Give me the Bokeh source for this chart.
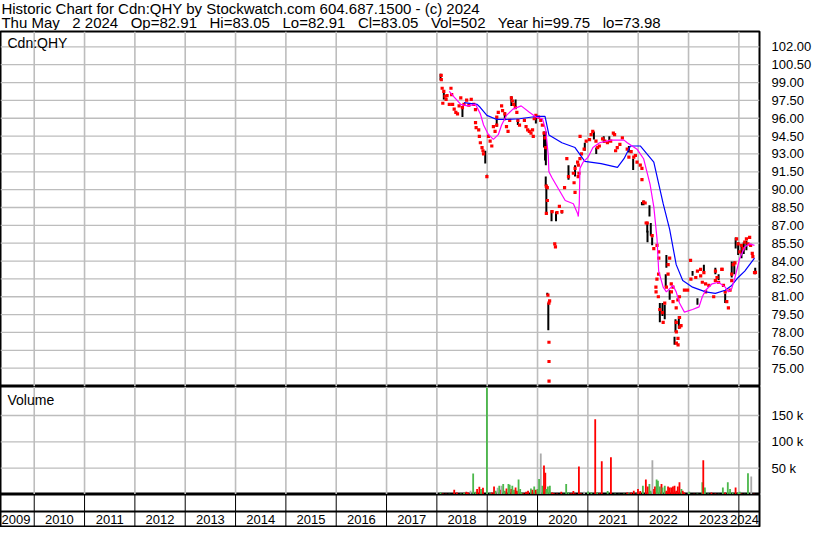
from bokeh.plotting import figure
from bokeh.models import Range1d, FixedTicker, PrintfTickFormatter, Label, Span, ColumnDataSource
from bokeh.layouts import column
from bokeh.embed import file_html
from bokeh.resources import INLINE
from bokeh.core.properties import value

# ---------------- data ----------------
header_line1 = "Historic Chart for Cdn:QHY by Stockwatch.com 604.687.1500 - (c) 2024"
header_line2 = "Thu May  2 2024  Op=82.91  Hi=83.05  Lo=82.91  Cl=83.05  Vol=502  Year hi=99.75  lo=73.98"
symbol = "Cdn:QHY"

years = list(range(2009, 2025))
year_bounds = list(range(2010, 2025))
date_start, date_end = 2009.33, 2024.41
price_lo, price_hi = 73.46, 103.29
price_ticks = [75.0, 76.5, 78.0, 79.5, 81.0, 82.5, 84.0, 85.5, 87.0, 88.5, 90.0,
               91.5, 93.0, 94.5, 96.0, 97.5, 99.0, 100.5, 102.0]
vol_ticks = [50000, 100000, 150000]
vol_tick_labels = ["50 k", "100 k", "150 k"]
vol_max = 205000

# daily closes (decimal year, price)
close_t = [2018.086, 2018.088, 2018.105, 2018.138, 2018.163, 2018.183, 2018.118, 2018.202, 2018.28, 2018.294,
           2018.247, 2018.313, 2018.344, 2018.377, 2018.41, 2018.442, 2018.475, 2018.508, 2018.539, 2018.591,
           2018.636, 2018.683, 2018.733, 2018.767, 2018.768, 2018.78, 2018.831, 2018.844, 2018.864, 2018.897,
           2018.916, 2018.928, 2018.994, 2019.025, 2019.058, 2019.091, 2019.123, 2019.156, 2019.189, 2019.19,
           2019.22, 2019.286, 2019.305, 2019.35, 2019.383, 2019.414, 2019.447, 2019.48, 2019.5, 2019.525,
           2019.558, 2019.589, 2019.609, 2019.642, 2019.739, 2019.772, 2019.804, 2019.837, 2019.87, 2019.901,
           2019.915, 2019.934, 2019.967, 2020.018, 2020.064, 2020.096, 2020.129, 2020.149, 2020.163, 2020.194,
           2020.173, 2020.195, 2020.175, 2020.29, 2020.387, 2020.484, 2020.434, 2020.537, 2020.582, 2020.615,
           2020.712, 2020.726, 2020.745, 2020.746, 2020.796, 2020.81, 2020.843, 2020.823, 2020.808, 2020.873,
           2020.926, 2020.845, 2020.967, 2021.033, 2021.064, 2021.097, 2021.161, 2021.195, 2021.228, 2021.292,
           2021.337, 2021.389, 2021.453, 2021.506, 2021.531, 2021.551, 2021.584, 2021.636, 2021.685, 2021.782,
           2021.815, 2021.86, 2021.912, 2021.944, 2021.977, 2022.041, 2022.074, 2022.075, 2022.107, 2022.138,
           2022.158, 2020.342, 2020.356, 2020.206, 2020.24, 2020.226, 2020.227, 2020.228, 2020.229,
           2022.18, 2022.277, 2022.31, 2022.374, 2022.407, 2022.41, 2022.405, 2022.372, 2022.352, 2022.355,
           2022.4, 2022.43, 2022.482, 2022.496, 2022.527, 2022.56, 2022.593, 2022.595, 2022.625, 2022.657,
           2022.69, 2022.66, 2022.692, 2022.755, 2022.82, 2022.788, 2022.821, 2022.757, 2022.758, 2022.79,
           2022.759, 2022.792, 2022.852, 2022.822, 2022.918, 2022.982, 2023.047, 2023.144, 2023.177, 2023.241,
           2023.274, 2023.339, 2023.34, 2023.403, 2023.5, 2023.533, 2023.566, 2023.597, 2023.663, 2023.694,
           2023.728, 2023.76, 2023.792, 2023.825, 2023.858, 2023.859, 2023.889, 2023.922, 2023.955, 2023.986,
           2024.019, 2024.052, 2024.083, 2024.117, 2024.15, 2024.181, 2024.214, 2024.233, 2024.266, 2024.278,
           2024.311, 2024.33, 2023.04, 2023.24, 2023.305, 2023.535, 2023.665]
close_p = [99.6, 99.25, 98.52, 98.26, 97.85, 97.58, 97.26, 97.9, 98.52, 97.98,
           97.17, 97.17, 96.77, 96.5, 96.37, 97.04, 97.72, 96.9, 97.17, 97.53,
           97.1, 97.58, 97.17, 96.72, 95.64, 95.21, 95.02, 94.48, 93.94, 93.54,
           93.27, 93.0, 91.1, 94.48, 94.08, 93.67, 95.29, 94.89, 95.43, 96.1,
           96.5, 97.04, 96.64, 96.37, 95.29, 94.89, 95.83, 97.72, 97.45, 97.17,
           96.9, 96.5, 95.83, 95.43, 95.83, 95.29, 95.02, 94.89, 94.75, 95.02,
           94.48, 95.96, 96.24, 96.1, 95.83, 95.43, 94.75, 94.35, 93.54, 90.17,
           90.3, 89.09, 88.0, 88.15, 88.07, 88.15, 88.6, 90.17, 92.6, 91.1,
           91.38, 90.58, 89.77, 91.79, 92.32, 92.06, 92.6, 91.38, 91.1, 93.0,
           93.4, 94.48, 94.08, 94.21, 94.62, 94.89, 94.08, 93.54, 93.67, 94.27,
           94.08, 93.94, 94.08, 94.75, 94.62, 93.27, 93.54, 93.81, 94.35, 93.4,
           92.73, 93.19, 92.73, 92.87, 92.32, 92.06, 91.79, 90.84, 88.96, 88.88,
           87.2, 85.45, 85.19, 81.14, 80.66, 80.47, 77.18, 75.56, 73.92,
           87.2, 86.13, 85.05, 85.32, 84.78, 84.24, 82.9, 82.49, 81.81, 81.41,
           81.0, 79.93, 79.66, 78.85, 80.47, 81.81, 82.9, 83.7, 84.24, 82.09,
           81.81, 81.41, 80.6, 80.07, 81.0, 80.74, 79.26, 78.85, 78.05, 77.5,
           77.1, 76.96, 78.58, 78.45, 81.55, 81.55, 82.49, 82.62, 83.16, 82.76,
           82.22, 82.09, 81.41, 81.95, 81.0, 82.36, 82.62, 82.22, 83.3, 81.95,
           81.41, 80.6, 80.07, 81.55, 82.36, 82.9, 83.7, 83.84, 85.86, 85.45,
           84.78, 85.32, 85.05, 85.59, 85.86, 85.45, 85.99, 85.32, 84.65, 84.38,
           83.03, 83.05, 84.05, 83.3, 83.03, 83.16, 83.3]

# daily high-low ranges (decimal year, low, high)
bar_t = [2018.073, 2018.138, 2018.508, 2018.961, 2018.994, 2019.189, 2019.35, 2019.48, 2019.564, 2019.609,
         2019.967, 2020.129, 2020.149, 2020.163, 2020.165, 2020.175, 2020.278, 2020.367, 2020.484, 2020.615,
         2020.745, 2020.939, 2021.166, 2021.12, 2021.315, 2021.426, 2021.815, 2021.9, 2022.074, 2020.194,
         2020.214, 2020.226, 2022.107, 2022.224, 2022.25, 2022.185, 2022.18, 2022.277, 2022.56, 2022.547,
         2022.43, 2022.482, 2022.527, 2022.625, 2022.741, 2022.807, 2022.722, 2023.08, 2023.177, 2023.305,
         2023.533, 2023.597, 2023.728, 2023.858, 2023.909, 2023.936, 2023.986, 2024.052, 2024.097, 2024.15,
         2024.325]
bar_lo = [99.2, 97.58, 96.1, 92.19, 90.98, 95.29, 95.83, 97.04, 96.77, 95.43,
          95.56, 93.54, 92.46, 90.3, 92.06, 88.0, 87.34, 87.34, 88.0, 90.84,
          91.1, 93.27, 93.0, 94.21, 93.94, 94.0, 93.13, 91.65, 88.69, 81.14,
          78.18, 73.87, 88.69, 87.75, 86.13, 85.59, 86.4, 85.32, 83.43, 81.81,
          78.85, 79.39, 79.12, 80.74, 78.05, 78.31, 76.96, 82.76, 80.33, 83.03,
          82.9, 82.4, 80.47, 82.62, 82.9, 85.05, 84.51, 84.24, 84.6, 84.9,
          82.9]
bar_hi = [99.74, 98.26, 96.77, 93.27, 91.25, 96.1, 96.5, 97.85, 97.58, 95.83,
          96.24, 94.89, 94.21, 91.1, 94.89, 90.44, 88.28, 88.15, 88.2, 92.06,
          92.06, 93.94, 93.54, 94.89, 94.48, 94.48, 93.67, 92.6, 88.96, 81.33,
          80.47, 74.0, 89.09, 88.69, 87.2, 86.54, 87.2, 86.0, 84.51, 82.9,
          80.47, 80.47, 80.33, 81.55, 79.12, 79.39, 77.64, 83.16, 80.87, 83.7,
          83.43, 82.9, 81.28, 83.97, 83.97, 85.99, 85.59, 85.32, 85.59, 85.7,
          83.43]

# moving averages
ma_long_t = [2018.539, 2018.8, 2018.864, 2018.994, 2019.189, 2019.383, 2019.642, 2019.967, 2020.149, 2020.226,
             2020.484, 2020.745, 2020.939, 2021.263, 2021.588, 2021.718, 2021.846, 2022.041, 2022.31, 2022.496,
             2022.625, 2022.755, 2022.885, 2023.08, 2023.339, 2023.533, 2023.728, 2023.858, 2023.986, 2024.117,
             2024.311]
ma_long_p = [97.31, 97.17, 96.9, 96.24, 95.9, 95.9, 95.96, 96.15, 96.15, 94.6,
             93.94, 93.54, 92.38, 92.19, 91.87, 92.6, 93.67, 93.67, 92.32, 88.82,
             86.67, 83.7, 82.36, 81.81, 81.41, 81.28, 81.55, 81.95, 82.62, 83.16,
             84.24]
ma_short_t = [2018.247, 2018.344, 2018.475, 2018.605, 2018.767, 2018.864, 2018.928, 2019.025, 2019.123, 2019.22,
              2019.286, 2019.383, 2019.512, 2019.675, 2019.837, 2019.967, 2020.096, 2020.163, 2020.214, 2020.226,
              2020.29, 2020.42, 2020.55, 2020.712, 2020.796, 2020.81, 2020.829, 2020.843, 2020.907, 2021.004,
              2021.101, 2021.232, 2021.457, 2021.718, 2021.782, 2021.977, 2022.107, 2022.236, 2022.31, 2022.374,
              2022.407, 2022.496, 2022.56, 2022.69, 2022.755, 2022.82, 2022.918, 2023.08, 2023.209, 2023.274,
              2023.339, 2023.469, 2023.597, 2023.728, 2023.792, 2023.858, 2023.922, 2024.019, 2024.117, 2024.214,
              2024.311]
ma_short_p = [98.26, 97.77, 97.17, 97.04, 97.17, 96.37, 95.43, 94.62, 94.22, 94.62,
              95.43, 96.24, 96.77, 97.04, 96.5, 96.1, 95.96, 95.02, 92.87, 91.51,
              90.98, 90.04, 89.09, 88.82, 88.0, 87.74, 88.82, 91.79, 92.32, 92.73,
              93.54, 93.94, 94.16, 94.16, 93.94, 93.4, 92.6, 90.44, 88.56, 85.86,
              83.16, 81.81, 81.41, 81.95, 81.41, 80.47, 79.71, 79.93, 80.15, 81.0,
              81.55, 82.09, 82.22, 81.81, 81.41, 81.68, 82.62, 84.24, 85.19, 85.45,
              85.32]

# daily volume (decimal year, shares, direction)
vol_t = [2018.073, 2018.118, 2018.183, 2018.248, 2018.345, 2018.397, 2018.475, 2018.54, 2018.585, 2018.617,
         2018.669, 2018.721, 2018.767, 2018.799, 2018.844, 2018.877, 2018.916, 2018.994, 2019.058, 2019.091,
         2019.136, 2019.169, 2019.208, 2019.24, 2019.272, 2019.285, 2019.318, 2019.35, 2019.383, 2019.422,
         2019.447, 2019.48, 2019.499, 2019.532, 2019.564, 2019.59, 2019.623, 2019.655, 2019.687, 2019.72,
         2019.772, 2019.811, 2019.869, 2019.901, 2019.934, 2019.966, 2019.999, 2020.031, 2020.064, 2020.096,
         2020.128, 2020.154, 2020.174, 2020.206, 2020.245, 2020.29, 2020.323, 2020.388, 2020.472, 2020.518,
         2020.569, 2020.615, 2020.667, 2020.712, 2020.745, 2020.822, 2020.861, 2020.926, 2021.004, 2021.069,
         2021.146, 2021.185, 2021.231, 2021.276, 2021.393, 2021.458, 2021.542, 2021.62, 2021.717, 2021.782,
         2021.815, 2021.86, 2021.912, 2021.964, 2021.996, 2022.041, 2022.093, 2022.152, 2022.191, 2022.223,
         2022.249, 2022.282, 2022.314, 2022.333, 2022.366, 2022.392, 2022.43, 2022.463, 2022.483, 2022.528,
         2022.56, 2022.593, 2022.625, 2022.658, 2022.69, 2022.722, 2022.755, 2022.787, 2022.82, 2022.859,
         2022.885, 2022.917, 2023.014, 2023.111, 2023.176, 2023.274, 2023.293, 2023.325, 2023.39, 2023.455,
         2023.533, 2023.598, 2023.682, 2023.728, 2023.78, 2023.825, 2023.877, 2023.935, 2023.987, 2024.019,
         2024.052, 2024.117, 2024.181, 2024.246, 2024.298, 2024.33]
vol_v = [3900, 2000, 1300, 1300, 9000, 3900, 2000, 3300, 5200, 3900,
         7100, 39800, 5200, 10300, 14800, 10300, 12900, 203000, 2600, 3900,
         15400, 7100, 12900, 16700, 9000, 16700, 19900, 7100, 11600, 19900,
         18600, 10300, 16700, 9000, 13500, 7100, 28300, 10300, 3900, 2600,
         5200, 7100, 11600, 9000, 15400, 9000, 10300, 29600, 77700, 16700,
         55200, 41200, 10300, 15400, 16700, 3900, 2600, 2000, 5200, 1300,
         19900, 3900, 2600, 6500, 2000, 53300, 2600, 5200, 5800, 3900,
         143000, 3900, 2600, 62900, 6500, 70600, 2000, 1300, 2000, 3900,
         2600, 3900, 7100, 2000, 10300, 6500, 16700, 28300, 15400, 19900,
         7100, 64800, 10300, 15400, 28300, 26300, 15400, 19900, 13500, 16700,
         7100, 15400, 13500, 13500, 15400, 16700, 7100, 15400, 23100, 10300,
         7100, 3900, 5200, 1300, 2000, 23100, 64800, 13500, 2000, 3900,
         2000, 1300, 13500, 3900, 23100, 10300, 3900, 13500, 3900, 5200,
         2000, 1300, 40400, 34000, 1300, 502]
vol_dir = ["up", "down", "down", "up", "down", "down", "up", "up", "down", "down",
           "flat", "up", "up", "down", "down", "up", "down", "up", "up", "down",
           "down", "up", "flat", "up", "down", "flat", "up", "up", "down", "up",
           "up", "down", "up", "up", "down", "down", "up", "up", "up", "down",
           "down", "down", "up", "down", "up", "down", "up", "up", "flat", "up",
           "down", "down", "up", "up", "up", "down", "down", "down", "down", "up",
           "up", "up", "down", "down", "down", "down", "down", "flat", "up", "up",
           "down", "up", "down", "down", "up", "down", "up", "up", "up", "down",
           "up", "down", "down", "up", "down", "down", "up", "down", "down", "up",
           "up", "flat", "down", "down", "up", "up", "up", "down", "up", "up",
           "down", "down", "down", "down", "down", "down", "down", "down", "down", "up",
           "down", "down", "up", "down", "up", "up", "down", "up", "up", "down",
           "down", "up", "up", "down", "up", "up", "up", "down", "up", "up",
           "down", "up", "up", "flat", "down", "up"]

# ---------------- styling ----------------
FONT = "Liberation Sans"
W = 814
RB = 55
H_HEAD, H_PRICE, H_VOL, H_DATE = 30, 356, 108, 33
GRID = "#bdbdbd"
GRID_PX = 1.3
dir_colors = {"up": "#4cb84c", "down": "#ff0000", "flat": "#aaaaaa"}

xr = Range1d(date_start, date_end)


def base_fig(height, y_range, yloc=None, top=0, bottom=0):
    f = figure(width=W, height=height, x_range=xr, y_range=y_range,
               x_axis_location=None, y_axis_location=yloc,
               toolbar_location=None, output_backend="svg",
               min_border_left=0, min_border_right=RB,
               min_border_top=top, min_border_bottom=bottom)
    f.outline_line_color = "black"
    f.outline_line_width = 2
    f.grid.visible = False
    return f


def add_grids(f, yticks, ylo, yhi, frame_h):
    # grid drawn first so every data mark sits on top of it
    f.segment(x0=year_bounds, y0=[ylo] * len(year_bounds), x1=year_bounds, y1=[yhi] * len(year_bounds),
              line_color=GRID, line_width=1.6)
    f.hbar(y=yticks, left=date_start, right=date_end, height=(yhi - ylo) / frame_h * GRID_PX,
           fill_color=GRID, line_color=None)


# header (wide gaps kept with no-break spaces)
GAP = "\u00a0\u00a0 "
hdr = figure(width=W, height=H_HEAD, x_range=Range1d(0, W), y_range=Range1d(0, H_HEAD),
             x_axis_location=None, y_axis_location=None, toolbar_location=None,
             output_backend="svg", min_border=0)
hdr.outline_line_color = None
hdr.grid.visible = False
for i, txt in enumerate([header_line1, header_line2]):
    hdr.add_layout(Label(x=1, y=H_HEAD + 1 - i * 14.5, text=txt.replace("  ", GAP), text_baseline="top",
                         text_font=FONT, text_font_size="15px", text_color="black"))

# price panel
pf = base_fig(H_PRICE, Range1d(price_lo, price_hi), yloc="right", top=1)
pf.yaxis.ticker = FixedTicker(ticks=price_ticks)
pf.yaxis.formatter = PrintfTickFormatter(format="%.2f")
add_grids(pf, price_ticks, price_lo, price_hi, H_PRICE - 1)

pf.segment(x0=bar_t, y0=bar_lo, x1=bar_t, y1=bar_hi, line_color="black", line_width=2)
pf.scatter(x=close_t, y=close_p, marker="square", size=3.2, fill_color="#ff0000", line_color=None)
pf.line(x=ma_long_t, y=ma_long_p, line_color="#0000ff", line_width=1.2)
pf.line(x=ma_short_t, y=ma_short_p, line_color="#ff00ff", line_width=1.2)
pf.add_layout(Label(x=7, y=price_hi, y_offset=-3, x_units="screen", text=symbol, text_baseline="top",
                    text_font=FONT, text_font_size="14px", text_color="black"))

# volume panel
vf = base_fig(H_VOL, Range1d(0, vol_max), yloc="right")
vf.yaxis.ticker = FixedTicker(ticks=vol_ticks)
vf.yaxis.major_label_overrides = {t: l for t, l in zip(vol_ticks, vol_tick_labels)}
add_grids(vf, vol_ticks, 0, vol_max, H_VOL)
vsrc = ColumnDataSource(dict(t=vol_t, v=vol_v, c=[dir_colors[d] for d in vol_dir]))
vf.vbar(x="t", top="v", bottom=0, width=0.036, fill_color="c", line_color=None, source=vsrc)
vf.add_layout(Label(x=7, y=vol_max, y_offset=-5, x_units="screen", text="Volume", text_baseline="top",
                    text_font=FONT, text_font_size="14px", text_color="black"))

for f in (pf, vf):
    ax = f.yaxis[0]
    ax.axis_line_color = None
    ax.major_tick_line_color = None
    ax.minor_tick_line_color = None
    ax.major_label_standoff = 6
    ax.major_label_text_font = FONT
    ax.major_label_text_font_size = "13px"
    ax.major_label_text_color = "black"

# date panel
df = base_fig(H_DATE, Range1d(0, 1), bottom=1)
df.segment(x0=year_bounds, y0=[0] * len(year_bounds), x1=year_bounds, y1=[1] * len(year_bounds),
           line_color="black", line_width=1)
df.add_layout(Span(location=0.47, dimension="width", line_color="black", line_width=2))
lab_x, lab_align = [], []
for y in years:
    if y < date_start:
        lab_x.append(date_start + 0.02); lab_align.append("left")
    elif y + 1 > date_end:
        lab_x.append(date_end - 0.01); lab_align.append("right")
    else:
        lab_x.append(y + 0.5); lab_align.append("center")
dsrc = ColumnDataSource(dict(x=lab_x, y=[0.22] * len(years), t=[str(y) for y in years], a=lab_align))
df.text(x="x", y="y", text="t", text_align="a", text_baseline="middle", source=dsrc,
        text_font=value(FONT), text_font_size="13px", text_color="black")

layout = column(hdr, pf, vf, df, spacing=0)
open("out.html", "w").write(file_html(layout, INLINE))
